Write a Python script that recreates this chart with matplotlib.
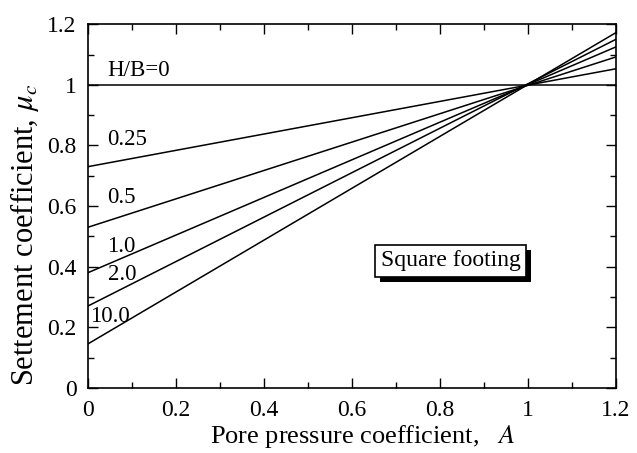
import numpy as np
import matplotlib.pyplot as plt
import matplotlib.patheffects as pe

plt.rcParams['font.family'] = ['Liberation Serif', 'DejaVu Serif']
plt.rcParams['mathtext.fontset'] = 'stix'

# H/B ratios and the settlement coefficient read at A=0 and A=1.2
hb_labels = ['H/B=0', '0.25', '0.5', '1.0', '2.0', '10.0']
a_ends = [0.0, 1.2]
mu_at_0 = [1.0, 0.73, 0.53, 0.38, 0.27, 0.145]
mu_at_12 = [1.0, 1.053, 1.092, 1.125, 1.150, 1.172]

# where each label sits (A, mu)
label_pos = [(0.045, 1.03), (0.045, 0.80), (0.045, 0.61), (0.045, 0.45),
             (0.045, 0.355), (0.005, 0.218)]

fig = plt.figure(figsize=(6.37, 4.53), dpi=100)
ax = fig.add_axes([0.1377, 0.1435, 0.829, 0.803])

for y0, y1 in zip(mu_at_0, mu_at_12):
    ax.plot(a_ends, [y0, y1], color='black', lw=1.1)

for txt, (x, y) in zip(hb_labels, label_pos):
    ax.text(x, y, txt, fontsize=16.5, ha='left', va='baseline')

t = ax.text(0.8245, 0.419, 'Square footing', fontsize=17, ha='center', va='center',
            bbox=dict(boxstyle='square,pad=0.22', fc='white', ec='black', lw=1.2))
t.get_bbox_patch().set_path_effects([
    pe.SimplePatchShadow(offset=(3.5, -3.5), shadow_rgbFace='black', alpha=1.0),
    pe.Normal()])

ax.set_xlim(0, 1.2)
ax.set_ylim(0, 1.2)
ax.set_xticks(np.arange(0, 1.21, 0.2))
ax.set_yticks(np.arange(0, 1.21, 0.2))
ax.set_xticklabels(['0', '0.2', '0.4', '0.6', '0.8', '1', '1.2'])
ax.set_yticklabels(['0', '0.2', '0.4', '0.6', '0.8', '1', '1.2'])
ax.set_xticks(np.arange(0.1, 1.2, 0.2), minor=True)
ax.set_yticks(np.arange(0.1, 1.2, 0.2), minor=True)
ax.tick_params(which='both', direction='in', top=True, right=True, labelsize=17)
ax.tick_params(which='major', length=7, width=1)
ax.tick_params(which='minor', length=4, width=1)
ax.tick_params(axis='x', pad=9)
ax.tick_params(axis='y', pad=8)
for s in ax.spines.values():
    s.set_linewidth(1.2)

ax.set_xlabel(r'Pore pressure coefficient,   $\it{A}$', fontsize=19)
ax.set_ylabel(r'Settement coefficient, $\mu_c$', fontsize=22)
ax.xaxis.set_label_coords(0.521, -0.095)
ax.yaxis.set_label_coords(-0.088, 0.42)

fig.savefig('out.png', dpi=100)
